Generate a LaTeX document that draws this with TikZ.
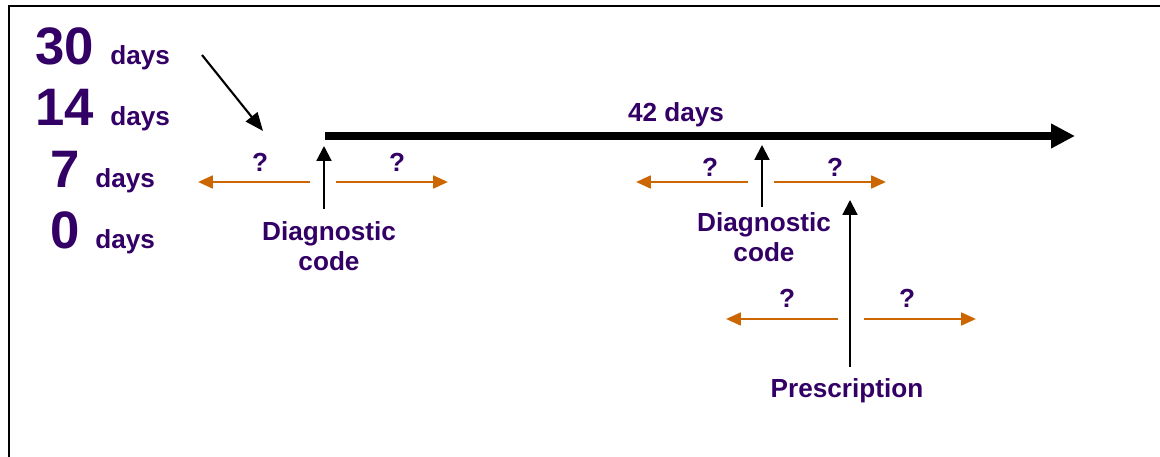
\documentclass[tikz,border=0pt]{standalone}
\usepackage{fontspec}
\setmainfont{Liberation Sans}
\usetikzlibrary{arrows.meta}
\definecolor{daypurple}{HTML}{330066}
\definecolor{qorange}{HTML}{CC6600}

\begin{document}
\begin{tikzpicture}[x=0.025cm, y=-0.025cm,
    lbl/.style={text=daypurple, font=\bfseries\fontsize{18.6}{21.5}\selectfont, inner sep=0pt},
    bignum/.style={text=daypurple, font=\bfseries\fontsize{37.5}{40}\selectfont, inner sep=0pt},
    qarrow/.style={draw=qorange, line width=1.8pt, -{Triangle[length=10.5pt,width=9pt]}},
    uparrow/.style={draw=black, line width=1.5pt, -{Triangle[length=10.5pt,width=10.5pt]}}]
    \useasboundingbox (0,0) rectangle (1160,457);
    % Frame (only top and left edges are visible)
    \draw[line width=1.5pt] (9,457) -- (9,6) -- (1160,6);

    % Day scale on the left
    \foreach \n/\nx/\dx/\y in {30/35/110/65, 14/35/110/126, 7/50/95/188, 0/50/95/249} {
        \node[bignum, anchor=base west] (num\n) at (\nx,\y) {\n};
        \node[lbl, anchor=base west] (days\n) at (\dx,\y) {days};
    }

    % Pointer to the start of the window
    \coordinate (ptrA) at (202,55);
    \coordinate (ptrB) at (263,131);
    \draw[line width=1.5pt, -{Triangle[length=13pt,width=10.5pt]}] (ptrA) -- (ptrB);

    % 42 day time line
    \coordinate (tlstart) at (325,136);
    \coordinate (tlend) at (1075,136);
    \draw[line width=5pt, -{Triangle[length=17pt,width=16.5pt]}] (tlstart) -- (tlend);
    \node[lbl, anchor=base] (window) at (676,122) {42 days};

    % Events and their labels
    \node[lbl, anchor=north, align=center] (diagA) at (329,221) {Diagnostic\\code};
    \node[lbl, anchor=north, align=center] (diagB) at (764,212) {Diagnostic\\code};
    \node[lbl, anchor=base] (presc) at (847,398) {Prescription};
    \coordinate (diagAtip) at (324,146);
    \coordinate (diagBtip) at (762,145);
    \coordinate (presctip) at (850,200);
    \draw[uparrow] (diagAtip |- 0,209) -- (diagAtip);
    \draw[uparrow] (diagBtip |- 0,207) -- (diagBtip);
    \draw[uparrow] (presctip |- 0,367) -- (presctip);

    % Uncertain offsets either side of each event
    \foreach \g/\cx/\cy in {A/323/182, B/761/182, C/851/319} {
        \coordinate (ls\g) at (\cx-13,\cy);
        \coordinate (le\g) at (\cx-125,\cy);
        \coordinate (rs\g) at (\cx+13,\cy);
        \coordinate (re\g) at (\cx+125,\cy);
        \draw[qarrow] (ls\g) -- (le\g);
        \draw[qarrow] (rs\g) -- (re\g);
    }
    \node[lbl, anchor=base] (qA1) at (260,172) {?};
    \node[lbl, anchor=base] (qA2) at (397,172) {?};
    \node[lbl, anchor=base] (qB1) at (710,177) {?};
    \node[lbl, anchor=base] (qB2) at (835,177) {?};
    \node[lbl, anchor=base] (qC1) at (787,308) {?};
    \node[lbl, anchor=base] (qC2) at (907,308) {?};
\end{tikzpicture}
\end{document}
